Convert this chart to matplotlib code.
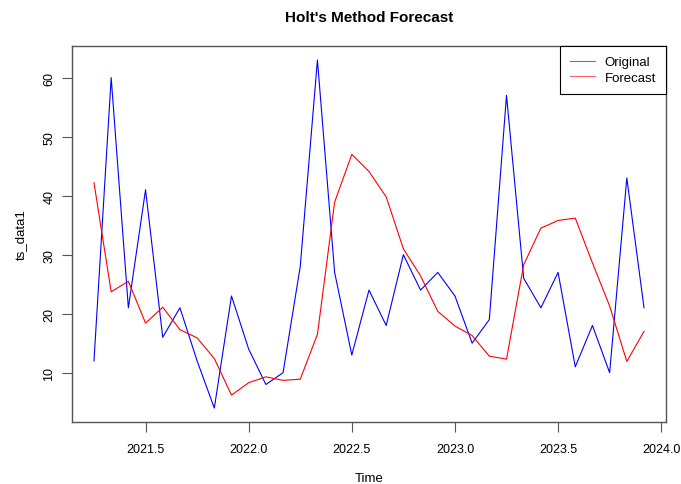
import matplotlib
matplotlib.use('Agg')

import matplotlib.pyplot as plt
import numpy as np

plt.rcParams['font.family'] = ['Liberation Sans', 'DejaVu Sans']

# monthly series, Apr 2021 .. Dec 2023
start_year = 2021.25
original = [12, 60, 21, 41, 16, 21, 12, 4, 23, 14, 8, 10, 28, 63, 27, 13, 24,
            18, 30, 24, 27, 23, 15, 19, 57, 26, 21, 27, 11, 18, 10, 43, 21]
forecast = [42.2, 23.7, 25.5, 18.4, 21.1, 17.3, 15.9, 12.4, 6.2, 8.3, 9.3,
            8.7, 8.9, 16.5, 38.9, 47.0, 44.1, 39.8, 31.0, 26.4, 20.4, 17.9,
            16.3, 12.8, 12.3, 28.3, 34.5, 35.8, 36.2, 28.6, 21.3, 11.9, 17.0]

x_ticks = [2021.5, 2022.0, 2022.5, 2023.0, 2023.5, 2024.0]
y_ticks = [10, 20, 30, 40, 50, 60]


def plot_holt(out_file):
    t = start_year + np.arange(len(original)) / 12.0

    fig = plt.figure(figsize=(6.81, 4.85), dpi=100)
    ax = fig.add_axes([0.1057, 0.1278, 0.8723, 0.7752])

    ax.plot(t, original, color='blue', lw=0.8, label='Original')
    ax.plot(t, forecast, color='red', lw=0.8, label='Forecast')

    # R-style 4% padding on both axes
    xr = t[-1] - t[0]
    ax.set_xlim(t[0] - 0.04 * xr, t[-1] + 0.04 * xr)
    lo = min(min(original), min(forecast))
    hi = max(max(original), max(forecast))
    yr = hi - lo
    ax.set_ylim(lo - 0.04 * yr, hi + 0.04 * yr)

    ax.set_xticks(x_ticks)
    ax.set_xticklabels(["%.1f" % v for v in x_ticks])
    ax.set_yticks(y_ticks)
    ax.set_yticklabels([str(v) for v in y_ticks], rotation=90, va='center')

    for s in ax.spines.values():
        s.set_color('#555555')
        s.set_linewidth(1.0)
    ax.tick_params(direction='out', length=7, width=0.8, color='#555555',
                   labelsize=9)
    ax.tick_params(axis='x', pad=8)
    ax.tick_params(axis='y', pad=5)

    ax.set_xlabel("Time", fontsize=9.5, labelpad=12)
    ax.set_ylabel("ts_data1", fontsize=9.5, labelpad=12)
    ax.set_title("Holt's Method Forecast", fontsize=11, fontweight='bold', pad=18)

    leg = ax.legend(loc='upper right', fontsize=9.5, fancybox=False,
                    borderaxespad=0, handlelength=1.9, handletextpad=0.75,
                    borderpad=0.75, labelspacing=0.25, framealpha=1)
    leg.get_frame().set_edgecolor('black')
    leg.get_frame().set_linewidth(0.8)
    for line in leg.get_lines():
        line.set_alpha(0.6)

    plt.savefig(out_file, dpi=100)
    plt.close()


def main():
    plot_holt("out.png")


if __name__ == "__main__":
    main()
